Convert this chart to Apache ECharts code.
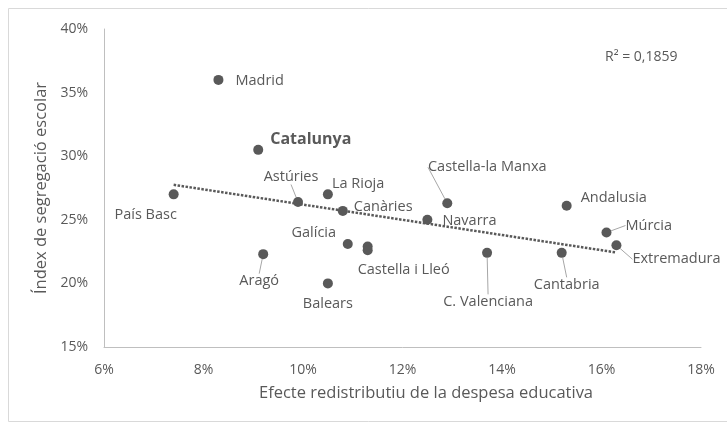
<!DOCTYPE html>
<html>
<head>
<meta charset="utf-8">
<script src="https://cdn.jsdelivr.net/npm/echarts@6/dist/echarts.min.js"></script>
<style>
  html, body { margin: 0; padding: 0; background: #fff; }
  #chart { width: 727px; height: 424px; }
</style>
</head>
<body>
<div id="chart"></div>
<script>
// values (%)
const regions = ['Madrid', 'Catalunya', 'País Basc', 'Astúries', 'La Rioja', 'Canàries',
  'Galícia', 'Aragó', 'Balears', 'Castella i Lleó', '', 'Navarra', 'Castella-la Manxa',
  'Andalusia', 'C. Valenciana', 'Cantabria', 'Múrcia', 'Extremadura'];
const redistribution = [8.3, 9.1, 7.4, 9.9, 10.5, 10.8, 10.9, 9.2, 10.5, 11.3, 11.3, 12.5, 12.9,
  15.3, 13.7, 15.2, 16.1, 16.3];
const segregation = [36.0, 30.5, 27.0, 26.4, 27.0, 25.7, 23.1, 22.3, 20.0, 22.9, 22.6, 25.0, 26.3,
  26.1, 22.4, 22.4, 24.0, 23.0];

// linear trend as drawn in the picture
const trendX = [7.4, 16.3];
const trendY = [27.75, 22.43];

const xTicks = [6, 8, 10, 12, 14, 16, 18];
const yTicks = [15, 20, 25, 30, 35, 40];

// label placement relative to the point centre: [dx, dy, align, leader line]
const labelAt = {
  'Madrid': [17, 1, 'left', false],
  'Catalunya': [12, -10, 'left', false],
  'País Basc': [-28, 21, 'center', false],
  'Astúries': [-7, -25, 'center', true],
  'La Rioja': [4, -10, 'left', false],
  'Canàries': [11, -4, 'left', false],
  'Galícia': [-34, -11, 'center', false],
  'Aragó': [-4, 27, 'center', true],
  'Balears': [0, 20, 'center', false],
  'Castella i Lleó': [36, 23, 'center', false],
  'Navarra': [15, 1, 'left', false],
  'Castella-la Manxa': [40, -36, 'center', true],
  'Andalusia': [14, -8, 'left', false],
  'C. Valenciana': [1, 49, 'center', true],
  'Cantabria': [5, 32, 'center', true],
  'Múrcia': [19, -7, 'left', true],
  'Extremadura': [16, 14, 'left', true]
};

const FONT = '"Open Sans", sans-serif';
const GREY = '#595959';

const chart = echarts.init(document.getElementById('chart'));

const points = regions.map((name, i) => {
  const item = { name: name, value: [redistribution[i], segregation[i]] };
  const pos = labelAt[name];
  if (!pos) {
    item.label = { show: false };
  } else {
    item.labelLine = { show: pos[3] };
    if (name === 'Catalunya') {
      item.label = { fontWeight: 'bold', fontSize: 16 };
    }
  }
  return item;
});

const option = {
  animation: false,
  textStyle: { fontFamily: FONT },
  title: {
    text: 'R² = 0,1859',
    left: 600,
    top: 45,
    textStyle: { fontFamily: FONT, fontSize: 14, fontWeight: 'normal', color: GREY }
  },
  graphic: [{
    type: 'rect',
    shape: { x: 8.5, y: 8.5, width: 740, height: 413 },
    style: { fill: 'none', stroke: '#d9d9d9', lineWidth: 1 },
    silent: true
  }],
  grid: { left: 104, right: 26, top: 29, bottom: 77 },
  xAxis: {
    type: 'value',
    min: xTicks[0],
    max: xTicks[xTicks.length - 1],
    interval: 2,
    name: 'Efecte redistributiu de la despesa educativa',
    nameLocation: 'middle',
    nameGap: 38,
    nameTextStyle: { fontFamily: FONT, fontSize: 16.5, color: GREY, padding: [0, 0, 0, 47] },
    axisLine: { show: true, lineStyle: { color: '#bfbfbf', width: 1 } },
    axisTick: { show: false },
    splitLine: { show: false },
    axisLabel: { formatter: '{value}%', margin: 16, fontSize: 14, color: GREY, fontFamily: FONT }
  },
  yAxis: {
    type: 'value',
    min: yTicks[0],
    max: yTicks[yTicks.length - 1],
    interval: 5,
    name: 'Índex de segregació escolar',
    nameLocation: 'middle',
    nameGap: 51,
    nameTextStyle: { fontFamily: FONT, fontSize: 16.5, color: GREY },
    axisLine: { show: true, lineStyle: { color: '#bfbfbf', width: 1 } },
    axisTick: { show: false },
    splitLine: { show: false },
    axisLabel: { formatter: '{value}%', margin: 16, fontSize: 14, color: GREY, fontFamily: FONT }
  },
  series: [
    {
      type: 'line',
      data: trendX.map((x, i) => [x, trendY[i]]),
      symbol: 'none',
      lineStyle: { color: GREY, width: 2.5, type: [2.5, 1.5] },
      z: 1
    },
    {
      type: 'scatter',
      data: points,
      symbolSize: 10,
      itemStyle: { color: GREY, opacity: 1 },
      z: 2,
      label: {
        show: true,
        formatter: '{b}',
        fontFamily: FONT,
        fontSize: 14.5,
        color: GREY
      },
      labelLine: {
        show: false,
        lineStyle: { color: '#a6a6a6', width: 1 }
      },
      labelLayout: function (params) {
        const name = regions[params.dataIndex];
        const pos = labelAt[name];
        if (!pos) return {};
        const cx = params.rect.x + params.rect.width / 2;
        const cy = params.rect.y + params.rect.height / 2;
        return { x: cx + pos[0], y: cy + pos[1], align: pos[2], verticalAlign: 'middle' };
      }
    }
  ]
};

chart.setOption(option);
</script>
</body>
</html>
